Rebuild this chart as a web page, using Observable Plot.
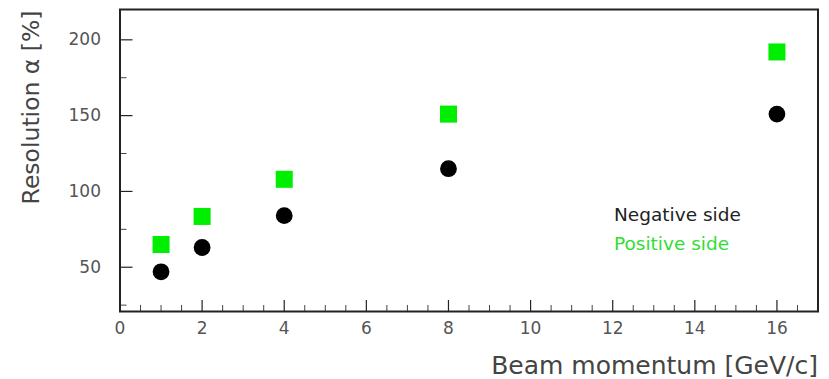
<!DOCTYPE html>
<html>
<head>
<meta charset="utf-8">
<script src="https://cdn.jsdelivr.net/npm/d3@7"></script>
<script src="https://cdn.jsdelivr.net/npm/@observablehq/plot@0.6"></script>
<style>
  html, body { margin: 0; padding: 0; background: #fff; }
  #chart svg { display: block; }
</style>
</head>
<body>
<div id="chart"></div>
<script>
// Beam momentum (GeV/c) and resolution (%) for both sides of the detector
const momentum = [1, 2, 4, 8, 16];
const negativeSide = [47, 63, 84, 115, 151];
const positiveSide = [65, 83.5, 108, 151, 192];

const xTickLabels = [0, 2, 4, 6, 8, 10, 12, 14, 16];
const yTickLabels = [50, 100, 150, 200];
const yMinorTicks = [25, 75, 125, 175];
const xMinorTicks = d3.range(0.5, 17, 0.5).filter(v => v % 2 !== 0);

const xTitle = "Beam momentum [GeV/c]";
const yTitle = "Resolution \u03b1 [%]";
const legendLabels = ["Negative side", "Positive side"];

const W = 829, H = 379;
const mL = 119.5, mR = 11.5, mT = 9, mB = 68;
const plotW = W - mL - mR, plotH = H - mT - mB;

const negRows = momentum.map((m, i) => ({m, v: negativeSide[i]}));
const posRows = momentum.map((m, i) => ({m, v: positiveSide[i]}));

const font = "DejaVu Sans, sans-serif";
const green = "#00ee00";

const chart = Plot.plot({
  width: W,
  height: H,
  marginLeft: mL,
  marginRight: mR,
  marginTop: mT,
  marginBottom: mB,
  style: {fontFamily: font, background: "#fff"},
  x: {domain: [0, 17], axis: null},
  y: {domain: [20.8, 220], axis: null},
  marks: [
    // inward ticks along the bottom
    Plot.tickX(xTickLabels, {x: d => d, insetTop: plotH - 11, stroke: "#222", strokeWidth: 1.2}),
    Plot.tickX(xMinorTicks, {x: d => d, insetTop: plotH - 6, stroke: "#444", strokeWidth: 1}),
    // inward ticks along the left
    Plot.tickY(yTickLabels, {y: d => d, insetRight: plotW - 13, stroke: "#222", strokeWidth: 1.2}),
    Plot.tickY(yMinorTicks, {y: d => d, insetRight: plotW - 7, stroke: "#444", strokeWidth: 1}),
    // tick labels
    Plot.text(xTickLabels, {x: d => d, frameAnchor: "bottom", dy: 17, text: d => String(d),
      fontSize: 17, fill: "#555", lineAnchor: "middle"}),
    Plot.text(yTickLabels, {y: d => d, frameAnchor: "left", dx: -19, text: d => String(d),
      fontSize: 17, fill: "#555", textAnchor: "end", lineAnchor: "middle"}),
    // axis titles
    Plot.text([xTitle], {frameAnchor: "bottom-right", dy: 54, textAnchor: "end", lineAnchor: "middle",
      fontSize: 25, fill: "#444", letterSpacing: 1.5}),
    Plot.text([yTitle], {frameAnchor: "top-left", dx: -89, dy: 1, rotate: -90, textAnchor: "end",
      lineAnchor: "middle", fontSize: 23.5, fill: "#444"}),
    // legend
    Plot.text([legendLabels[0]], {frameAnchor: "top-left", dx: 494, dy: 206, textAnchor: "start",
      lineAnchor: "middle", fontSize: 18.5, fill: "#222"}),
    Plot.text([legendLabels[1]], {frameAnchor: "top-left", dx: 494, dy: 235, textAnchor: "start",
      lineAnchor: "middle", fontSize: 18.5, fill: "#33dd33"}),
    // data
    Plot.dot(posRows, {x: "m", y: "v", symbol: "square", r: 9.6, fill: green, stroke: null}),
    Plot.dot(negRows, {x: "m", y: "v", symbol: "circle", r: 8.4, fill: "#000", stroke: null}),
    Plot.frame({stroke: "#222", strokeWidth: 2})
  ]
});

document.getElementById("chart").appendChild(chart);
</script>
</body>
</html>
